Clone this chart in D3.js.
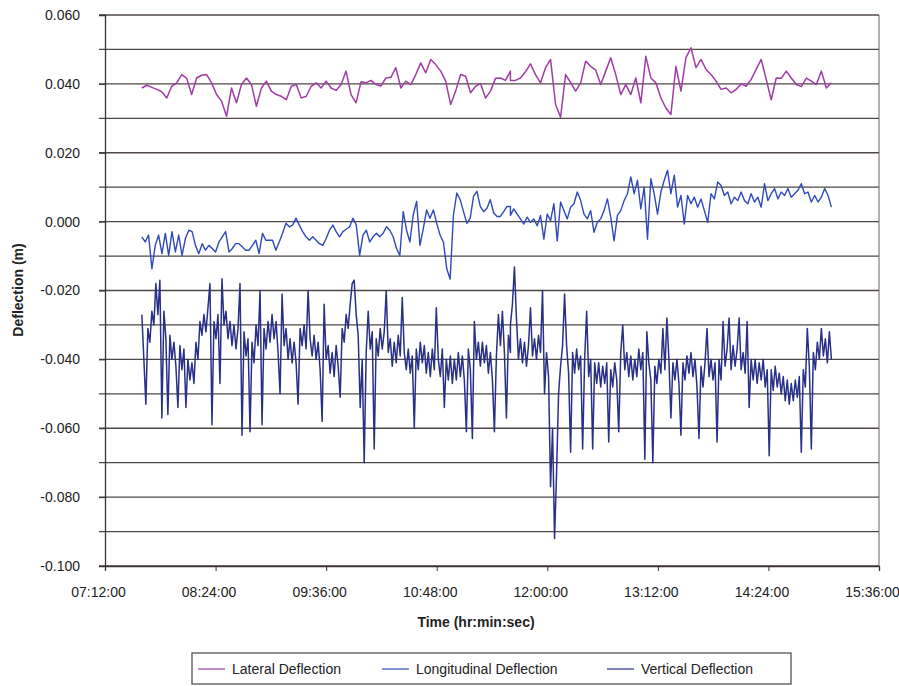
<!DOCTYPE html>
<html>
<head>
<meta charset="utf-8">
<script src="https://cdn.jsdelivr.net/npm/d3@7"></script>
<style>
  body { margin: 0; background: #fff; }
  svg { display: block; font-family: "Liberation Sans", Arial, sans-serif; }
</style>
</head>
<body>
<svg id="chart" width="899" height="686"></svg>
<script>
// x axis tick labels (every 1 h 12 min)
var xTickLabels = ["07:12:00", "08:24:00", "09:36:00", "10:48:00", "12:00:00", "13:12:00", "14:24:00", "15:36:00"];
// y axis tick labels
var yTickLabels = ["-0.100", "-0.080", "-0.060", "-0.040", "-0.020", "0.000", "0.020", "0.040", "0.060"];

// each record is split in two halves, samples evenly spaced inside each half
var halfA = ["07:36:00", "11:36:00"];
var halfB = ["11:36:00", "15:05:00"];

var seriesNames = ["Lateral Deflection", "Longitudinal Deflection", "Vertical Deflection"];
var seriesColors = ["#a03ca6", "#3049b8", "#283088"];

var lateralA = [0.0388, 0.0396, 0.0390, 0.0384, 0.0377, 0.0359, 0.0393, 0.0403, 0.0427, 0.0416,
  0.0369, 0.0417, 0.0425, 0.0427, 0.0403, 0.0369, 0.0350, 0.0306, 0.0388, 0.0345,
  0.0398, 0.0417, 0.0398, 0.0335, 0.0388, 0.0408, 0.0379, 0.0369, 0.0364, 0.0354,
  0.0393, 0.0398, 0.0359, 0.0364, 0.0393, 0.0403, 0.0388, 0.0408, 0.0388, 0.0381,
  0.0398, 0.0437, 0.0369, 0.0345, 0.0406, 0.0403, 0.0410, 0.0398, 0.0394, 0.0417,
  0.0419, 0.0447, 0.0388, 0.0408, 0.0398, 0.0427, 0.0461, 0.0432, 0.0471, 0.0456,
  0.0437, 0.0408, 0.0340, 0.0379, 0.0427, 0.0422, 0.0374, 0.0393, 0.0401, 0.0359,
  0.0379, 0.0416, 0.0417, 0.0410, 0.0437];
var lateralB = [0.0410, 0.0410, 0.0417, 0.0435, 0.0458, 0.0427, 0.0403, 0.0447, 0.0471, 0.0340,
  0.0303, 0.0427, 0.0404, 0.0379, 0.0403, 0.0466, 0.0451, 0.0440, 0.0398, 0.0437,
  0.0476, 0.0427, 0.0369, 0.0398, 0.0369, 0.0417, 0.0345, 0.0480, 0.0417, 0.0403,
  0.0359, 0.0330, 0.0311, 0.0451, 0.0379, 0.0476, 0.0505, 0.0447, 0.0471, 0.0442,
  0.0427, 0.0408, 0.0384, 0.0388, 0.0374, 0.0384, 0.0400, 0.0393, 0.0413, 0.0442,
  0.0471, 0.0413, 0.0354, 0.0417, 0.0416, 0.0437, 0.0417, 0.0398, 0.0392, 0.0417,
  0.0408, 0.0398, 0.0437, 0.0388, 0.0403];

var longitudinalA = [-0.0044, -0.0059, -0.0039, -0.0137, -0.0069, -0.0039, -0.0093, -0.0034, -0.0098, -0.0029,
  -0.0088, -0.0039, -0.0098, -0.0049, -0.0025, -0.0029, -0.0069, -0.0093, -0.0064, -0.0083,
  -0.0069, -0.0078, -0.0088, -0.0059, -0.0044, -0.0029, -0.0088, -0.0078, -0.0064, -0.0064,
  -0.0074, -0.0083, -0.0083, -0.0069, -0.0054, -0.0093, -0.0034, -0.0054, -0.0054, -0.0054,
  -0.0083, -0.0059, -0.0034, -0.0005, -0.0015, -0.0010, 0.0010, -0.0010, -0.0029, -0.0044,
  -0.0054, -0.0044, -0.0054, -0.0064, -0.0069, -0.0049, -0.0025, -0.0010, -0.0029, -0.0044,
  -0.0029, -0.0022, -0.0015, 0.0010, -0.0010, -0.0098, -0.0039, -0.0025, -0.0059, -0.0044,
  -0.0034, -0.0044, -0.0034, -0.0015, -0.0025, -0.0044, -0.0078, -0.0098, 0.0029, -0.0025,
  -0.0059, 0.0020, 0.0059, -0.0069, -0.0020, 0.0034, 0.0010, 0.0034, -0.0005, -0.0039,
  -0.0059, -0.0137, -0.0167, 0.0020, 0.0083, 0.0064, 0.0029, -0.0005, 0.0010, 0.0074,
  0.0088, 0.0044, 0.0029, 0.0039, 0.0064, 0.0025, 0.0015, 0.0015, 0.0029, 0.0044,
  0.0044];
var longitudinalB = [0.0018, 0.0037, 0.0022, 0.0008, -0.0007, 0.0013, -0.0002, 0.0008, -0.0012, 0.0018,
  -0.0051, 0.0022, 0.0003, 0.0052, -0.0056, 0.0057, 0.0032, 0.0008, 0.0042, 0.0052,
  0.0086, 0.0061, 0.0022, 0.0008, 0.0032, -0.0031, -0.0002, 0.0008, 0.0032, 0.0066,
  0.0013, -0.0056, 0.0018, 0.0032, 0.0061, 0.0081, 0.0130, 0.0081, 0.0120, 0.0037,
  0.0100, -0.0051, 0.0125, 0.0081, 0.0022, 0.0086, 0.0120, 0.0149, 0.0081, 0.0135,
  0.0042, 0.0076, -0.0007, 0.0076, 0.0052, 0.0071, 0.0042, 0.0066, 0.0032, -0.0002,
  0.0081, 0.0066, 0.0115, 0.0105, 0.0076, 0.0086, 0.0052, 0.0071, 0.0061, 0.0086,
  0.0061, 0.0052, 0.0081, 0.0057, 0.0071, 0.0042, 0.0110, 0.0061, 0.0081, 0.0096,
  0.0066, 0.0086, 0.0076, 0.0096, 0.0071, 0.0081, 0.0091, 0.0110, 0.0081, 0.0086,
  0.0057, 0.0076, 0.0057, 0.0071, 0.0096, 0.0076, 0.0042];

var verticalA = [-0.027, -0.040, -0.053, -0.031, -0.035, -0.026, -0.030, -0.018, -0.027, -0.017,
  -0.057, -0.026, -0.034, -0.056, -0.033, -0.040, -0.035, -0.042, -0.054, -0.036,
  -0.043, -0.037, -0.054, -0.040, -0.046, -0.041, -0.047, -0.035, -0.040, -0.029,
  -0.033, -0.027, -0.032, -0.025, -0.018, -0.059, -0.029, -0.034, -0.027, -0.047,
  -0.0166, -0.030, -0.026, -0.034, -0.029, -0.036, -0.030, -0.037, -0.031, -0.018,
  -0.062, -0.032, -0.039, -0.034, -0.061, -0.035, -0.041, -0.030, -0.036, -0.020,
  -0.059, -0.031, -0.037, -0.029, -0.035, -0.027, -0.034, -0.029, -0.038, -0.050,
  -0.021, -0.036, -0.031, -0.040, -0.034, -0.041, -0.035, -0.041, -0.053, -0.031,
  -0.036, -0.030, -0.037, -0.020, -0.034, -0.039, -0.033, -0.040, -0.035, -0.043,
  -0.058, -0.024, -0.040, -0.036, -0.044, -0.038, -0.045, -0.036, -0.042, -0.051,
  -0.031, -0.035, -0.027, -0.031, -0.024, -0.018, -0.017, -0.027, -0.033, -0.054,
  -0.040, -0.070, -0.038, -0.026, -0.037, -0.032, -0.066, -0.034, -0.039, -0.031,
  -0.037, -0.032, -0.020, -0.038, -0.034, -0.042, -0.035, -0.041, -0.033, -0.039,
  -0.022, -0.038, -0.043, -0.037, -0.044, -0.039, -0.060, -0.037, -0.043, -0.035,
  -0.041, -0.036, -0.044, -0.038, -0.045, -0.037, -0.043, -0.025, -0.040, -0.045,
  -0.037, -0.054, -0.040, -0.046, -0.039, -0.047, -0.040, -0.046, -0.038, -0.045,
  -0.039, -0.046, -0.061, -0.037, -0.043, -0.063, -0.029, -0.040, -0.035, -0.042,
  -0.035, -0.041, -0.036, -0.044, -0.038, -0.046, -0.061, -0.039, -0.027, -0.036,
  -0.026, -0.038, -0.057, -0.033, -0.038];
var verticalB = [-0.030, -0.024, -0.0132, -0.028, -0.040, -0.034, -0.041, -0.035, -0.042, -0.036,
  -0.025, -0.039, -0.034, -0.040, -0.033, -0.038, -0.020, -0.050, -0.038, -0.045,
  -0.077, -0.060, -0.092, -0.073, -0.050, -0.042, -0.036, -0.021, -0.036, -0.044,
  -0.067, -0.038, -0.044, -0.037, -0.043, -0.039, -0.066, -0.040, -0.026, -0.045,
  -0.040, -0.066, -0.041, -0.047, -0.041, -0.048, -0.042, -0.047, -0.041, -0.064,
  -0.043, -0.048, -0.041, -0.046, -0.061, -0.038, -0.030, -0.043, -0.038, -0.045,
  -0.039, -0.046, -0.040, -0.045, -0.037, -0.043, -0.038, -0.069, -0.032, -0.041,
  -0.046, -0.070, -0.042, -0.047, -0.040, -0.044, -0.031, -0.043, -0.028, -0.040,
  -0.057, -0.041, -0.046, -0.040, -0.047, -0.062, -0.041, -0.046, -0.039, -0.044,
  -0.038, -0.045, -0.040, -0.048, -0.063, -0.042, -0.048, -0.041, -0.031, -0.045,
  -0.040, -0.046, -0.041, -0.064, -0.040, -0.046, -0.029, -0.042, -0.037, -0.028,
  -0.043, -0.036, -0.042, -0.037, -0.028, -0.043, -0.038, -0.044, -0.029, -0.054,
  -0.040, -0.046, -0.040, -0.047, -0.041, -0.046, -0.040, -0.048, -0.043, -0.068,
  -0.043, -0.049, -0.042, -0.048, -0.044, -0.050, -0.045, -0.052, -0.046, -0.053,
  -0.047, -0.052, -0.046, -0.051, -0.045, -0.067, -0.043, -0.048, -0.031, -0.042,
  -0.066, -0.038, -0.043, -0.035, -0.040, -0.031, -0.039, -0.034, -0.041, -0.032,
  -0.040];

var parseTime = d3.timeParse("%H:%M:%S");

// place the samples of one half evenly between its start and end time
function withTimes(values, half) {
  var t0 = parseTime(half[0]).getTime(), t1 = parseTime(half[1]).getTime();
  return values.map(function (v, i) {
    return { t: new Date(t0 + (t1 - t0) * i / (values.length - 1)), v: v };
  });
}

var series = [
  withTimes(lateralA, halfA).concat(withTimes(lateralB, halfB)),
  withTimes(longitudinalA, halfA).concat(withTimes(longitudinalB, halfB)),
  withTimes(verticalA, halfA).concat(withTimes(verticalB, halfB))
];

var svg = d3.select("#chart");
var plotLeft = 105, plotRight = 879, plotTop = 15, plotBottom = 566;

var x = d3.scaleTime()
  .domain([parseTime(xTickLabels[0]), parseTime(xTickLabels[xTickLabels.length - 1])])
  .range([plotLeft, plotRight]);
var y = d3.scaleLinear().domain([-0.1, 0.06]).range([plotBottom, plotTop]);

// horizontal grid lines every 0.010, running a little past the left axis
var gridVals = d3.range(-10, 7).map(function (k) { return k / 100; });
svg.append("g").selectAll("line")
  .data(gridVals)
  .join("line")
  .attr("x1", plotLeft - 6).attr("x2", plotRight)
  .attr("y1", function (d) { return y(d); })
  .attr("y2", function (d) { return y(d); })
  .attr("stroke", "#4f4646")
  .attr("stroke-width", 1.3);

// y axis with labels
var yAxis = d3.axisLeft(y)
  .tickValues(yTickLabels.map(Number))
  .tickFormat(function (d, i) { return yTickLabels[i]; })
  .tickSize(6)
  .tickPadding(19);
var gy = svg.append("g").attr("transform", "translate(" + plotLeft + ",0)").call(yAxis);
gy.selectAll("text").attr("font-size", 14).attr("fill", "#222").attr("font-family", "Liberation Sans, Arial, sans-serif");
gy.selectAll("line").attr("stroke", "#3a3333");
gy.select(".domain").attr("stroke", "#3a3333").attr("stroke-width", 1.3);

// x axis, labels sit a little left of their ticks as in the original
var xAxis = d3.axisBottom(x)
  .tickValues(xTickLabels.map(parseTime))
  .tickFormat(function (d, i) { return xTickLabels[i]; })
  .tickSize(5)
  .tickPadding(16);
var gx = svg.append("g").attr("transform", "translate(0," + plotBottom + ")").call(xAxis);
gx.selectAll("text").attr("font-size", 14).attr("fill", "#222").attr("font-family", "Liberation Sans, Arial, sans-serif")
  .attr("dx", -7);
gx.selectAll("line").attr("stroke", "#3a3333");
gx.select(".domain").attr("stroke", "#3a3333").attr("stroke-width", 1.3);

// right border of the plot area
svg.append("line")
  .attr("x1", plotRight).attr("x2", plotRight)
  .attr("y1", plotTop).attr("y2", plotBottom)
  .attr("stroke", "#6a6262").attr("stroke-width", 1);

// the three deflection records
var line = d3.line()
  .x(function (d) { return x(d.t); })
  .y(function (d) { return y(d.v); });

var widths = [1.5, 1.4, 1.5];
[2, 1, 0].forEach(function (k) {
  svg.append("path")
    .datum(series[k])
    .attr("fill", "none")
    .attr("stroke", seriesColors[k])
    .attr("stroke-width", widths[k])
    .attr("stroke-linejoin", "round")
    .attr("d", line);
});

// axis titles
svg.append("text")
  .attr("transform", "translate(23,290) rotate(-90)")
  .attr("text-anchor", "middle")
  .attr("font-size", 14)
  .attr("font-weight", "bold")
  .attr("fill", "#222")
  .text("Deflection (m)");

svg.append("text")
  .attr("x", 476).attr("y", 627)
  .attr("text-anchor", "middle")
  .attr("font-size", 14)
  .attr("font-weight", "bold")
  .attr("fill", "#222")
  .text("Time (hr:min:sec)");

// legend
svg.append("rect")
  .attr("x", 192).attr("y", 653)
  .attr("width", 599).attr("height", 31)
  .attr("fill", "#fff")
  .attr("stroke", "#5a5252")
  .attr("stroke-width", 1.3);

var legendX = [198, 382, 607];
var legend = svg.append("g").selectAll("g")
  .data(seriesNames)
  .join("g")
  .attr("transform", function (d, i) { return "translate(" + legendX[i] + ",669)"; });
legend.append("line")
  .attr("x1", 0).attr("x2", 27)
  .attr("stroke", function (d, i) { return seriesColors[i]; })
  .attr("stroke-width", 1.2);
legend.append("text")
  .attr("x", 34).attr("y", 5)
  .attr("font-size", 14)
  .attr("fill", "#222")
  .text(function (d) { return d; });
</script>
</body>
</html>
